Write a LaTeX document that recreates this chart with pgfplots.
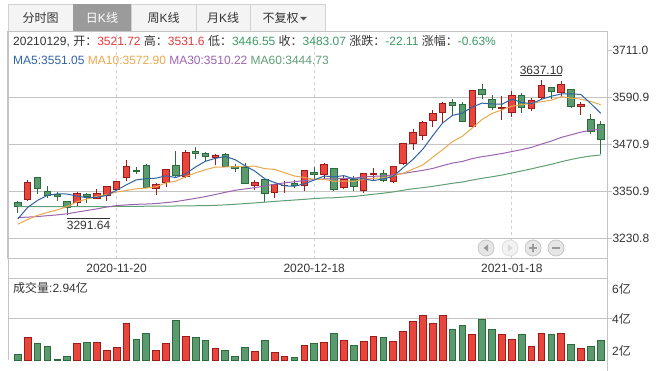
\documentclass[border=0pt]{standalone}
\usepackage{pgfplots}
\pgfplotsset{compat=1.18}
\usepackage{pgfplotstable}
\usepackage{fontspec}
\setmainfont{Liberation Sans}
\newfontfamily\cjk{Noto Sans CJK SC}

\definecolor{kred}{HTML}{E8453C}
\definecolor{kredb}{HTML}{9E1B1B}
\definecolor{kgreen}{HTML}{5A9A6E}
\definecolor{kgreenb}{HTML}{2C6B3B}
\definecolor{ma5c}{HTML}{2F64A3}
\definecolor{ma10c}{HTML}{EAA84E}
\definecolor{ma30c}{HTML}{9C63B0}
\definecolor{ma60c}{HTML}{5F9F74}
\definecolor{gridc}{HTML}{C4C4C4}
\definecolor{dashc}{HTML}{D0D0D0}
\definecolor{txt}{HTML}{333333}
\definecolor{upt}{HTML}{E4393C}
\definecolor{dnt}{HTML}{3C9A62}
\definecolor{tabbg}{HTML}{F4F4F4}
\definecolor{tabsel}{HTML}{9B9B9B}
\definecolor{tabline}{HTML}{D2D2D2}
\definecolor{btnbg}{HTML}{E6E6E6}
\definecolor{btnline}{HTML}{C8C8C8}
\definecolor{btnsym}{HTML}{9A9A9A}

\pgfplotstableread{
i up o h l c ma5 ma10 ma30 ma60 vol
0 0 3324 3327 3296 3312.16 3281.18 3267.79 3284.82 3313.0 2.29
1 1 3330 3380 3328 3373.73 3310.91 3280.05 3286.01 3313.0 3.09
2 0 3386 3387 3346 3360.15 3328.72 3290.63 3287.45 3313.0 2.77
3 0 3352.7 3366 3336 3342.20 3341.67 3297.93 3289.71 3313.0 2.67
4 0 3345 3351 3328 3338.68 3345.38 3304.52 3291.68 3313.0 2.05
5 0 3325 3326 3291.64 3310.10 3344.97 3313.08 3294.58 3313.0 2.18
6 1 3324.5 3350 3315 3346.97 3339.62 3325.26 3298.83 3313.0 2.77
7 0 3344.5 3348 3323 3339.90 3335.57 3332.15 3302.91 3313.0 2.82
8 1 3333.5 3358 3331 3347.30 3336.59 3339.13 3307.01 3313.0 2.86
9 1 3341 3365 3328 3363.09 3341.47 3343.43 3311.84 3313.0 2.48
10 1 3356 3378 3353 3377.73 3355.00 3349.99 3315.36 3313.2 2.58
11 1 3386 3433 3377 3414.49 3368.50 3354.06 3317.23 3313.4 3.77
12 0 3405 3415 3396 3402.82 3381.09 3358.33 3318.67 3313.6 2.99
13 0 3417.5 3422 3360 3362.33 3384.09 3360.34 3319.40 3313.8 3.25
14 1 3359.5 3372 3343 3369.73 3385.42 3363.45 3320.65 3314.0 2.48
15 1 3374 3410 3362 3408.31 3391.54 3373.27 3323.05 3314.2 2.77
16 0 3418 3456 3389 3391.76 3386.99 3377.75 3325.69 3314.4 3.92
17 1 3389 3457 3386 3451.94 3396.81 3388.95 3329.82 3314.7 3.15
18 0 3453 3465 3435 3449.38 3414.22 3399.16 3333.97 3315.0 3.09
19 0 3448 3451 3429 3442.14 3428.71 3407.06 3338.29 3315.4 2.96
20 1 3438 3447 3418 3444.58 3435.96 3413.75 3343.84 3316.0 2.53
21 0 3445 3449 3415 3416.60 3440.93 3413.96 3349.36 3317.3 2.48
22 0 3414.5 3422 3401 3410.18 3432.58 3414.70 3354.56 3318.8 2.19
23 0 3413 3424 3370 3371.96 3417.09 3415.66 3357.98 3320.5 2.58
24 1 3368 3382 3356 3373.28 3403.32 3416.01 3361.33 3322.3 2.43
25 0 3381 3382 3325 3347.19 3383.84 3409.90 3365.42 3324.2 2.96
26 1 3350 3370 3336 3369.12 3374.35 3407.64 3370.22 3326.1 2.34
27 1 3366 3379 3348 3367.23 3365.76 3399.17 3373.43 3327.9 2.19
28 0 3371 3380 3360 3366.98 3364.76 3390.93 3376.41 3329.7 2.10
29 1 3368 3407 3353 3404.87 3371.08 3387.20 3379.23 3331.35 2.72
30 0 3399 3413 3383 3394.90 3380.62 3382.23 3381.99 3333.42 2.77
31 1 3394 3423 3382 3420.57 3390.91 3382.63 3383.55 3334.79 2.82
32 0 3409 3410 3353 3356.78 3388.82 3377.29 3383.44 3335.45 3.25
33 1 3362 3394 3357 3382.32 3391.89 3378.32 3384.77 3337.25 2.94
34 0 3381 3392 3353 3363.11 3383.54 3377.31 3385.59 3338.64 2.71
35 1 3353 3397 3347 3396.56 3383.87 3382.24 3388.47 3341.53 2.90
36 1 3396 3412 3379 3397.29 3379.21 3385.06 3390.15 3344.49 3.14
37 0 3397 3406 3376 3379.04 3383.66 3386.24 3391.45 3347.18 3.09
38 1 3377 3415 3373 3414.45 3390.09 3390.99 3393.69 3350.35 2.90
39 1 3422 3474 3419 3473.07 3412.08 3397.81 3397.36 3354.60 3.38
40 1 3475 3511 3457 3502.96 3433.36 3408.62 3401.53 3358.45 3.86
41 1 3494 3531 3484 3528.68 3459.64 3419.43 3405.34 3361.29 4.14
42 1 3532 3559 3515 3550.88 3494.01 3438.84 3410.27 3364.48 3.76
43 1 3553 3580 3527 3576.20 3526.36 3458.22 3417.40 3368.41 4.14
44 0 3579 3588 3545 3570.11 3545.77 3478.92 3424.08 3372.38 3.47
45 0 3573 3580 3528 3531.50 3551.47 3492.42 3428.19 3375.63 3.66
46 1 3518 3610 3515 3608.34 3567.41 3513.52 3435.41 3380.56 3.23
47 0 3613 3625 3588 3598.65 3576.96 3535.48 3440.30 3385.07 3.95
48 0 3586 3599 3560 3565.90 3574.90 3550.63 3444.18 3389.08 3.47
49 1 3564 3594 3535 3566.38 3574.15 3559.96 3448.32 3393.31 3.23
50 1 3554 3609 3541 3596.22 3587.10 3569.29 3453.38 3398.61 2.99
51 0 3597 3603 3553 3566.28 3578.69 3573.05 3458.37 3403.86 3.23
52 1 3564 3591 3556 3583.09 3575.57 3576.27 3464.13 3409.34 2.66
53 1 3592 3637.10 3586 3621.26 3586.65 3580.77 3472.44 3415.21 3.28
54 0 3617 3619 3588 3606.75 3594.72 3584.44 3480.22 3420.78 3.23
55 1 3605 3633 3592 3624.24 3600.32 3593.71 3489.46 3427.44 3.28
56 0 3612 3613 3565 3569.43 3600.95 3589.82 3496.13 3433.18 2.75
57 1 3568 3579 3547 3573.34 3599.00 3587.29 3503.00 3438.22 2.56
58 0 3535 3550 3497 3505.18 3575.79 3581.22 3507.61 3442.01 2.66
59 0 3521.72 3531.6 3446.55 3483.07 3551.05 3572.89 3510.22 3444.73 2.94
}\kdata

\begin{document}
\begin{tikzpicture}[x=1pt,y=1pt]
\path[use as bounding box] (0,0) rectangle (666,371);

% ---------- tabs ----------
\draw[fill=tabbg, draw=tabline] (8,340) rectangle (73,367);
\draw[fill=tabsel, draw=tabsel] (73,340) rectangle (131,367);
\draw[fill=tabbg, draw=tabline] (131,340) rectangle (196,367);
\draw[fill=tabbg, draw=tabline] (196,340) rectangle (250,367);
\draw[fill=tabbg, draw=tabline] (250,340) rectangle (325,367);
\begin{scope}[every node/.style={anchor=base, inner sep=0, font=\fontsize{12}{14}\selectfont, text=txt}]
\node at (40.5,348.5) {\cjk 分时图};
\node[text=white] at (102,348.5) {{\cjk 日}K{\cjk 线}};
\node at (163.5,348.5) {{\cjk 周}K{\cjk 线}};
\node at (223,348.5) {{\cjk 月}K{\cjk 线}};
\node at (280.5,348.5) {\cjk 不复权};
\end{scope}
\fill[txt!85] (300,354) -- (307,354) -- (303.5,350.5) -- cycle;

% ---------- price panel ----------
\begin{axis}[
  at={(8pt,112pt)}, anchor=south west, scale only axis,
  width=599pt, height=227pt,
  xmin=-0.992, xmax=59.636, ymin=3179.1, ymax=3758.6,
  axis line style={draw=gridc, line width=1pt},
  xtick={10,30,50}, xticklabels={2020-11-20,2020-12-18,2021-01-18},
  xmajorgrids, x grid style={draw=dashc, dash pattern=on 3pt off 3pt, line width=0.8pt},
  xtick style={draw=none},
  xticklabel style={font=\fontsize{12}{14}\selectfont, text=txt, yshift=-2pt},
  ytick={3230.8,3350.9,3470.9,3590.9,3711.0},
  yticklabels={3230.8,3350.9,3470.9,3590.9,3711.0},
  ytick pos=right, yticklabel pos=right, ytick align=outside,
  ytick style={draw=gridc, line width=1pt},
  major tick length=5pt,
  yticklabel style={font=\fontsize{12}{14}\selectfont, text=txt, xshift=-3pt},
  extra y ticks={3230.8,3350.9,3470.9,3590.9},
  extra y tick labels={},
  extra y tick style={grid=major, major tick length=0pt, major grid style={draw=gridc, line width=1pt, solid}},
  clip=false,
]
\pgfplotsforeachungrouped \k in {0,...,59}{%
  \pgfplotstablegetelem{\k}{o}\of\kdata\let\O\pgfplotsretval
  \pgfplotstablegetelem{\k}{h}\of\kdata\let\H\pgfplotsretval
  \pgfplotstablegetelem{\k}{l}\of\kdata\let\L\pgfplotsretval
  \pgfplotstablegetelem{\k}{c}\of\kdata\let\C\pgfplotsretval
  \pgfplotstablegetelem{\k}{up}\of\kdata\let\U\pgfplotsretval
  \pgfmathsetmacro\xl{\k-0.33}\pgfmathsetmacro\xr{\k+0.33}%
  \ifnum\U=1 \def\fc{kred}\def\bc{kredb}\else\def\fc{kgreen}\def\bc{kgreenb}\fi
  \edef\temp{\noexpand\addplot[forget plot, draw=\bc, line width=1pt] coordinates {(\k,\L) (\k,\H)};
    \noexpand\addplot[forget plot, draw=\bc, fill=\fc, line width=0.9pt] coordinates {(\xl,\O) (\xr,\O) (\xr,\C) (\xl,\C)} --cycle;}%
  \temp
}
\addplot[no markers, draw=ma60c, line width=1pt] table[x=i, y=ma60] {\kdata};
\addplot[no markers, draw=ma30c, line width=1pt] table[x=i, y=ma30] {\kdata};
\addplot[no markers, draw=ma10c, line width=1pt] table[x=i, y=ma10] {\kdata};
\addplot[no markers, draw=ma5c, line width=1pt] table[x=i, y=ma5] {\kdata};
% low / high annotations
\draw[txt, line width=0.8pt] ([yshift=-3.4pt]axis cs:5,3291.64) -- ([xshift=43pt,yshift=-3.4pt]axis cs:5,3291.64);
\node[anchor=base west, inner sep=0, font=\fontsize{12}{14}\selectfont, text=txt] at ([xshift=-0.5pt,yshift=-14.4pt]axis cs:5,3291.64) {3291.64};
\draw[txt, line width=0.8pt] ([xshift=-21pt,yshift=3.9pt]axis cs:53,3637.10) -- ([xshift=21pt,yshift=3.9pt]axis cs:53,3637.10);
\node[anchor=base, inner sep=0, font=\fontsize{12}{14}\selectfont, text=txt] at ([yshift=4.8pt]axis cs:53,3637.10) {3637.10};
\end{axis}

% ---------- volume panel ----------
\begin{axis}[
  at={(8pt,11pt)}, anchor=south west, scale only axis,
  width=599pt, height=81pt,
  xmin=-0.992, xmax=59.636, ymin=2, ymax=5.885,
  axis line style={draw=none},
  xtick=\empty, ytick={4}, yticklabels={},
  ytick pos=right, ytick align=outside, major tick length=5pt,
  ytick style={draw=gridc, line width=1pt},
  ymajorgrids, major grid style={draw=gridc, line width=1pt},
  clip=false,
]
\pgfplotsforeachungrouped \k in {0,...,59}{%
  \pgfplotstablegetelem{\k}{vol}\of\kdata\let\V\pgfplotsretval
  \pgfplotstablegetelem{\k}{up}\of\kdata\let\U\pgfplotsretval
  \pgfmathsetmacro\xl{\k-0.34}\pgfmathsetmacro\xr{\k+0.34}%
  \ifnum\U=1 \def\fc{kred}\def\bc{kredb}\else\def\fc{kgreen}\def\bc{kgreenb}\fi
  \edef\temp{\noexpand\addplot[forget plot, draw=\bc, fill=\fc, line width=0.9pt] coordinates {(\xl,2) (\xr,2) (\xr,\V) (\xl,\V)} --cycle;}%
  \temp
}
\end{axis}

% ---------- frame lines ----------
\draw[gridc, line width=1pt] (8,339.5) -- (8,11);
\draw[gridc, line width=1pt] (607,339.5) -- (607,0);
\draw[gridc, line width=1pt] (8,92) -- (607,92);

% ---------- header texts ----------
\node[anchor=base west, inner sep=0, font=\fontsize{12}{14}\selectfont, text=txt] at (13,325)
 {20210129, {\cjk 开：}\textcolor{upt}{3521.72} {\cjk 高：}\textcolor{upt}{3531.6} {\cjk 低：}\textcolor{dnt}{3446.55} {\cjk 收：}\textcolor{dnt}{3483.07} {\cjk 涨跌：}\textcolor{dnt}{-22.11} {\cjk 涨幅：}\textcolor{dnt}{-0.63\%}};
\node[anchor=base west, inner sep=0, font=\fontsize{12}{14}\selectfont] at (13,306.7)
 {\textcolor{ma5c}{MA5:3551.05} \textcolor{ma10c}{MA10:3572.90} \textcolor{ma30c}{MA30:3510.22} \textcolor{ma60c}{MA60:3444.73}};
\node[anchor=base west, inner sep=0, font=\fontsize{12}{14}\selectfont, text=txt] at (13,78.7)
 {{\cjk 成交量}:2.94{\cjk 亿}};
\begin{scope}[every node/.style={anchor=base west, inner sep=0, font=\fontsize{12}{14}\selectfont, text=txt}]
\node at (612,77.7) {6{\cjk 亿}};
\node at (612,47.7) {4{\cjk 亿}};
\node at (612,15.2) {2{\cjk 亿}};
\end{scope}

% ---------- navigation buttons ----------
\draw[fill=btnbg, draw=btnline, line width=0.8pt] (486,123) circle (8);
\draw[fill=btnbg!50, draw=btnline!60, line width=0.8pt] (510,123) circle (8);
\draw[fill=btnbg, draw=btnline, line width=0.8pt] (533,123) circle (8);
\draw[fill=btnbg, draw=btnline, line width=0.8pt] (556,123) circle (8);
\fill[btnsym] (483.5,123) -- (488,126.5) -- (488,119.5) -- cycle;
\fill[btnsym!40] (512.5,123) -- (508,126.5) -- (508,119.5) -- cycle;
\draw[btnsym, line width=1.3pt] (529,123) -- (537,123) (533,119) -- (533,127);
\draw[btnsym, line width=1.3pt] (552,123) -- (560,123);
\end{tikzpicture}
\end{document}
